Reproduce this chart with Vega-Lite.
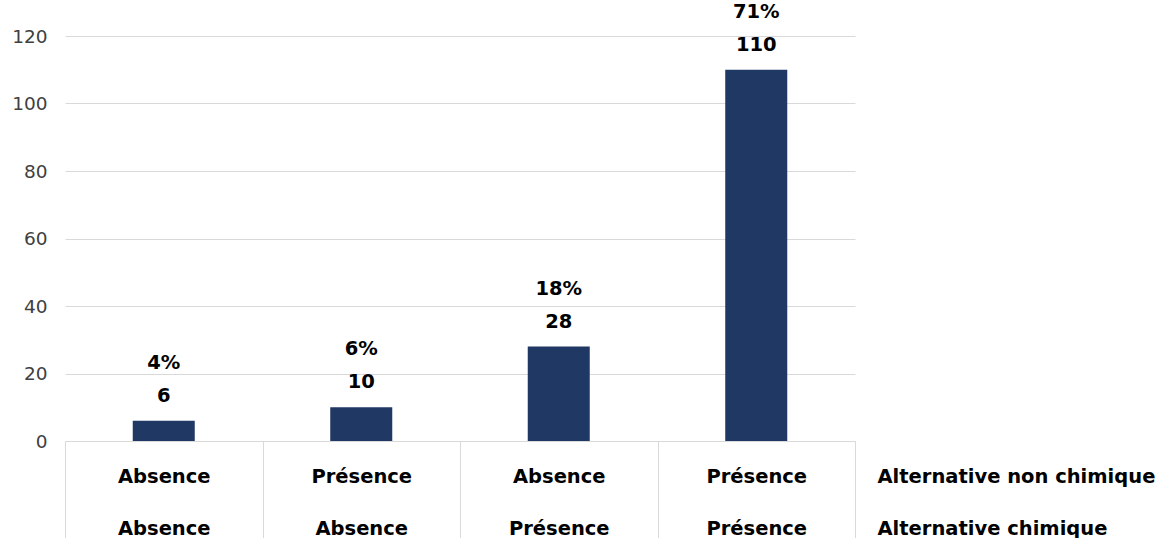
{
  "$schema": "https://vega.github.io/schema/vega-lite/v6.json",
  "width": 790,
  "height": 405,
  "autosize": {"type": "none"},
  "padding": {"left": 65, "top": 36, "right": 313, "bottom": 97},
  "background": "white",
  "config": {"view": {"stroke": null}, "font": "DejaVu Sans"},
  "data": {
    "values": [
      {"groupe": "Absence|Absence", "n": 6, "pct": "4%"},
      {"groupe": "Présence|Absence", "n": 10, "pct": "6%"},
      {"groupe": "Absence|Présence", "n": 28, "pct": "18%"},
      {"groupe": "Présence|Présence", "n": 110, "pct": "71%"}
    ]
  },
  "encoding": {
    "x": {
      "field": "groupe",
      "type": "nominal",
      "sort": null,
      "scale": {"paddingInner": 0, "paddingOuter": 0},
      "axis": {
        "title": ["Alternative non chimique", "Alternative chimique"],
        "titleX": 812,
        "titleY": 26,
        "titleAlign": "left",
        "titleBaseline": "top",
        "titleAngle": 0,
        "titleLineHeight": 52,
        "titleFont": "DejaVu Sans",
        "titleFontSize": 19.5,
        "titleFontWeight": "bold",
        "titleColor": "#000000",
        "labelExpr": "split(datum.label, '|')",
        "labelAngle": 0,
        "labelFont": "DejaVu Sans",
        "labelFontSize": 19.5,
        "labelFontWeight": "bold",
        "labelColor": "#000000",
        "labelBaseline": "top",
        "labelLineHeight": 52,
        "labelPadding": -71,
        "tickBand": "extent",
        "tickSize": 97,
        "tickColor": "#d9d9d9",
        "tickWidth": 1,
        "domainColor": "#d9d9d9",
        "domainWidth": 1,
        "grid": false
      }
    },
    "y": {
      "field": "n",
      "type": "quantitative",
      "scale": {"domain": [0, 120]},
      "axis": {
        "title": null,
        "values": [0, 20, 40, 60, 80, 100, 120],
        "ticks": false,
        "domain": false,
        "labelPadding": 18,
        "labelFont": "DejaVu Sans",
        "labelFontSize": 18.5,
        "labelColor": "#404040",
        "gridColor": "#d9d9d9",
        "gridWidth": 1
      }
    }
  },
  "layer": [
    {"mark": {"type": "bar", "color": "#203864", "width": {"band": 0.314}}},
    {
      "mark": {"type": "text", "dy": -25, "baseline": "middle", "font": "DejaVu Sans", "fontSize": 19.5, "fontWeight": "bold", "color": "#000000"},
      "encoding": {"text": {"field": "n"}}
    },
    {
      "mark": {"type": "text", "dy": -58, "baseline": "middle", "font": "DejaVu Sans", "fontSize": 19.5, "fontWeight": "bold", "color": "#000000"},
      "encoding": {"text": {"field": "pct"}}
    }
  ]
}
